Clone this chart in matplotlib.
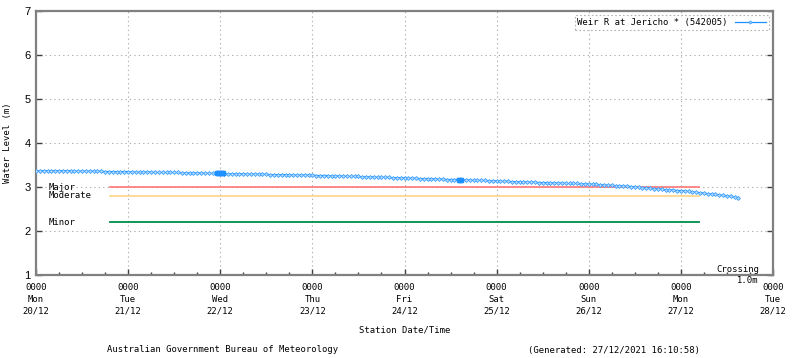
import pandas as pd
import matplotlib
matplotlib.use("Agg")
import matplotlib.pyplot as plt
import matplotlib.dates as mdates

# Hourly water level (m), Weir R at Jericho, from 20/12/2021 00:00
levels = [
    # 20/12
    3.37, 3.37, 3.37, 3.37, 3.37, 3.37, 3.37, 3.37, 3.37, 3.37, 3.36, 3.36,
    3.36, 3.36, 3.36, 3.36, 3.36, 3.36, 3.35, 3.35, 3.35, 3.35, 3.35, 3.35,
    # 21/12
    3.35, 3.34, 3.34, 3.34, 3.34, 3.34, 3.34, 3.33, 3.33, 3.33, 3.33, 3.33,
    3.33, 3.33, 3.32, 3.32, 3.32, 3.32, 3.32, 3.32, 3.31, 3.31, 3.31, 3.31,
    # 22/12
    3.31, 3.30, 3.30, 3.30, 3.30, 3.30, 3.30, 3.29, 3.29, 3.29, 3.29, 3.29,
    3.29, 3.28, 3.28, 3.28, 3.28, 3.28, 3.28, 3.27, 3.27, 3.27, 3.27, 3.27,
    # 23/12
    3.27, 3.26, 3.26, 3.26, 3.26, 3.25, 3.25, 3.25, 3.25, 3.24, 3.24, 3.24,
    3.24, 3.23, 3.23, 3.23, 3.23, 3.22, 3.22, 3.22, 3.22, 3.21, 3.21, 3.21,
    # 24/12
    3.21, 3.20, 3.20, 3.20, 3.19, 3.19, 3.19, 3.19, 3.18, 3.18, 3.18, 3.17,
    3.17, 3.17, 3.17, 3.16, 3.16, 3.16, 3.15, 3.15, 3.15, 3.15, 3.14, 3.14,
    # 25/12
    3.14, 3.13, 3.13, 3.13, 3.12, 3.12, 3.12, 3.12, 3.11, 3.11, 3.11, 3.10,
    3.10, 3.10, 3.10, 3.09, 3.09, 3.09, 3.08, 3.08, 3.08, 3.08, 3.07, 3.07,
    # 26/12
    3.07, 3.06, 3.06, 3.05, 3.05, 3.04, 3.04, 3.03, 3.03, 3.02, 3.02, 3.01,
    3.00, 2.99, 2.98, 2.98, 2.97, 2.96, 2.96, 2.95, 2.94, 2.94, 2.93, 2.92,
    # 27/12
    2.92, 2.91, 2.90, 2.89, 2.88, 2.87, 2.86, 2.85, 2.84, 2.83, 2.82, 2.81,
    2.80, 2.79, 2.77, 2.76,
]
times = pd.date_range("2021-12-20 00:00", periods=len(levels), freq="h")

# extra closely spaced readings (show up as solid blobs on the trace)
extra_times = pd.to_datetime([
    "2021-12-21 23:15", "2021-12-21 23:30", "2021-12-21 23:45", "2021-12-22 00:15",
    "2021-12-22 00:30", "2021-12-22 00:45",
    "2021-12-24 14:15", "2021-12-24 14:30", "2021-12-24 14:45",
])
extra_levels = [3.31, 3.31, 3.31, 3.31, 3.31, 3.31, 3.16, 3.16, 3.16]

# Flood classification levels (m)
class_names = ["Major", "Moderate", "Minor"]
class_levels = [3.0, 2.8, 2.2]
class_colors = ["#ff8080", "#ffd890", "#008c46"]
class_start = pd.Timestamp("2021-12-20 19:15")
class_end = pd.Timestamp("2021-12-27 04:45")

day_ticks = pd.date_range("2021-12-20", "2021-12-28", freq="D")
tick_labels = [d.strftime("0000\n%a\n%d/%m") for d in day_ticks]

mono = "DejaVu Sans Mono"
fs = 6.4

fig = plt.figure(figsize=(8, 3.58), dpi=100)
ax = fig.add_axes([36 / 800, 1 - 275 / 358, 737 / 800, 264 / 358])

ax.set_xlim(day_ticks[0], day_ticks[-1])
ax.set_ylim(1, 7)

# dotted grid
ax.grid(True, which="major", color="#b0b0b0", linestyle=(0, (1.2, 2.8)), linewidth=0.8)
ax.set_axisbelow(True)

for lev, col in zip(class_levels, class_colors):
    ax.plot([class_start, class_end], [lev, lev], color=col, linewidth=1.3, zorder=2)

for name, lev in zip(class_names, class_levels):
    ax.annotate(name, xy=(0, lev), xycoords=("axes fraction", "data"),
                xytext=(13, 0), textcoords="offset pixels",
                fontsize=fs, family=mono, va="center", ha="left")

line, = ax.plot(times, levels, color="#1e90ff", linewidth=0.9, marker="D",
                markersize=2.0, markerfacecolor="#b8dcff", markeredgecolor="#3ca0ff",
                markeredgewidth=0.6, zorder=3, label="Weir R at Jericho * (542005)")
ax.plot(extra_times, extra_levels, linestyle="none", marker="s", markersize=3.2,
        color="#1e90ff", zorder=4)

ax.set_xticks(day_ticks)
ax.set_xticklabels(tick_labels, family=mono, fontsize=fs, linespacing=1.4)
ax.xaxis.set_minor_locator(mdates.HourLocator(byhour=[6, 12, 18]))
ax.set_yticks(range(1, 8))
ax.set_yticklabels([str(i) for i in range(1, 8)], family="Liberation Sans", fontsize=8)

ax.tick_params(axis="x", which="major", direction="in", length=4, width=1, color="#404040", pad=6)
ax.tick_params(axis="x", which="minor", direction="in", length=2.5, width=1, color="#404040")
ax.tick_params(axis="y", which="major", direction="in", length=4, width=1, color="#404040",
               right=True, pad=4)

for sp in ax.spines.values():
    sp.set_color("#808080")
    sp.set_linewidth(1.6)

ax.set_ylabel("Water Level (m)", family=mono, fontsize=fs, labelpad=9)
ax.set_xlabel("Station Date/Time", family=mono, fontsize=fs, labelpad=7)

leg = ax.legend(handles=[line], loc="upper right", markerfirst=False,
                prop={"family": mono, "size": fs}, frameon=True, fancybox=False,
                borderpad=0.3, handlelength=3.5, handletextpad=0.8, borderaxespad=0.5,
                markerscale=0.8)
leg.get_frame().set_edgecolor("#a0a0a0")
leg.get_frame().set_linestyle((0, (1.5, 2.0)))
leg.get_frame().set_linewidth(0.8)

ax.text(0.952, 0.005, "Crossing", transform=ax.transAxes, family=mono, fontsize=fs,
        ha="center", va="bottom")
ax.text(0.98, -0.002, "1.0m", transform=ax.transAxes, family=mono, fontsize=fs,
        ha="right", va="top")

fig.text(107 / 800, 1 - 350 / 358, "Australian Government Bureau of Meteorology",
         family=mono, fontsize=fs, ha="left", va="center")
fig.text(528 / 800, 1 - 350 / 358, "(Generated: 27/12/2021 16:10:58)",
         family=mono, fontsize=fs, ha="left", va="center")

fig.savefig("out.png", dpi=100, facecolor="white")
